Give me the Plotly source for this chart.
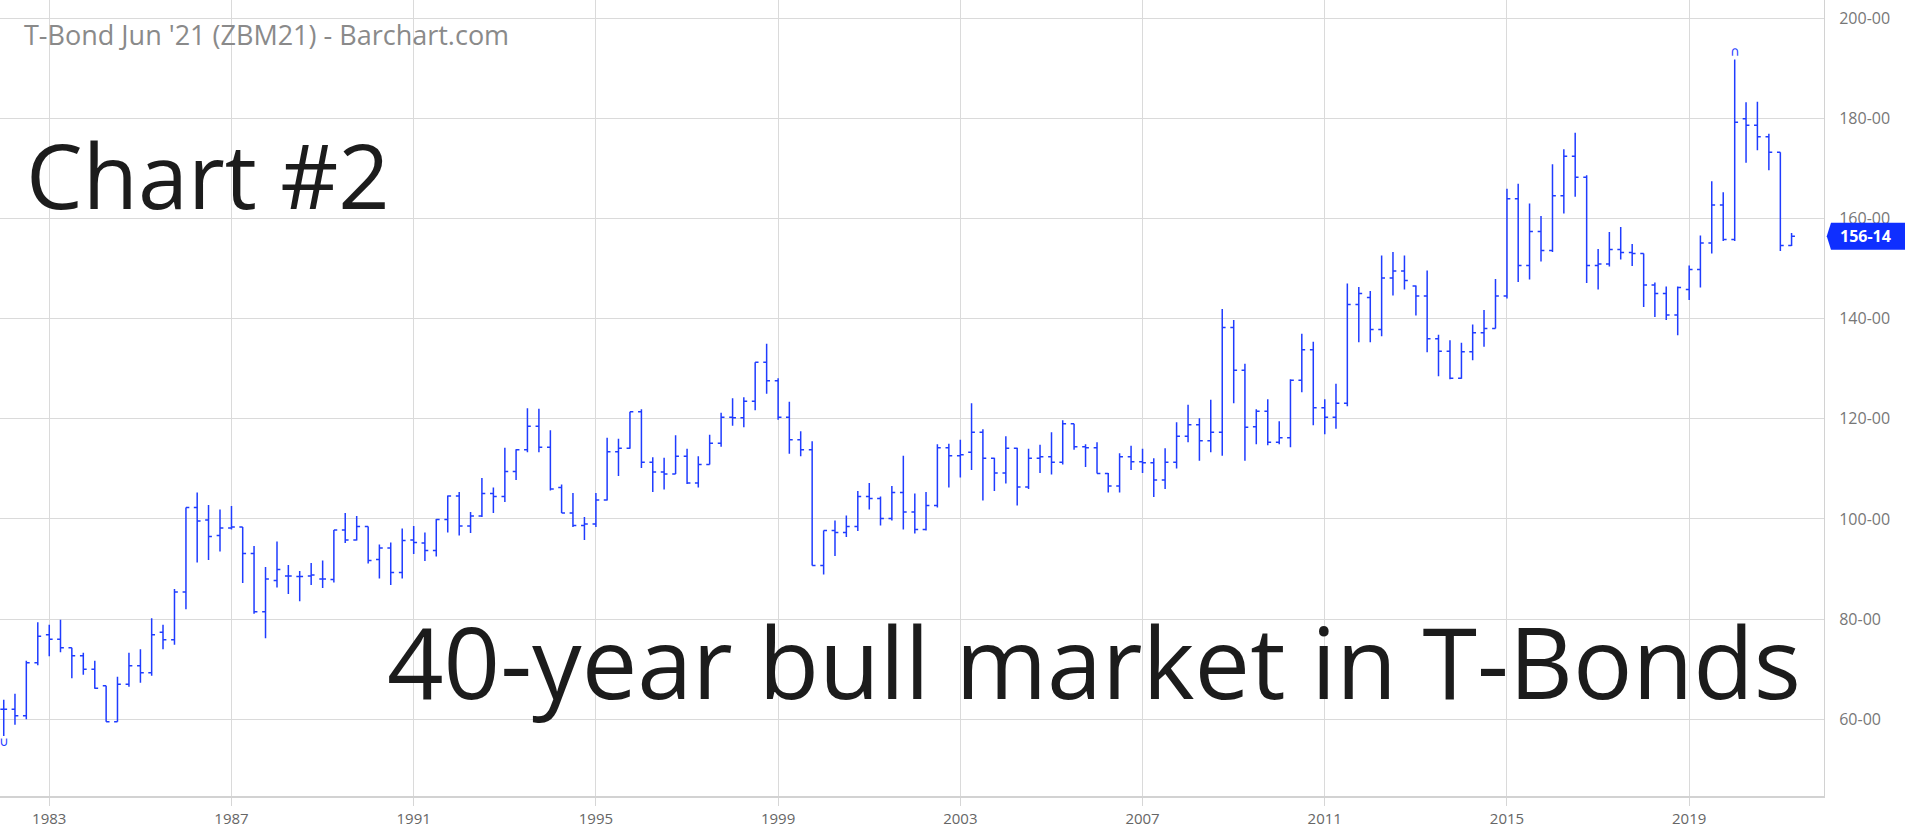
import pandas as pd
import plotly.graph_objects as go

# ---------------- data (quarterly OHLC, T-Bond futures) ----------------
opens = [
    62.0, 62.0, 60.7, 71.3, 76.9, 76.0, 74.3, 72.7, 70.0, 66.7,
    59.5, 67.0, 70.7, 69.3, 77.4, 75.9, 85.4, 102.3, 99.8, 96.7,
    98.2, 98.4, 93.1, 81.5, 87.7, 88.6, 88.5, 88.6, 88.0, 87.9,
    97.8, 95.8, 98.5, 91.9, 94.2, 89.3, 95.8, 95.2, 93.7, 99.9,
    104.6, 98.6, 100.6, 105.1, 104.5, 109.5, 113.8, 118.5, 114.3, 106.3,
    101.2, 98.7, 99.0, 103.8, 113.4, 114.1, 121.4, 111.3, 109.4, 109.0,
    112.5, 107.2, 110.9, 115.1, 120.3, 120.2, 123.5, 131.3, 127.6, 120.3,
    115.8, 113.8, 90.7, 97.7, 97.3, 98.5, 104.5, 104.1, 100.1, 105.3,
    101.4, 97.9, 102.7, 114.2, 112.6, 113.3, 117.3, 112.1, 109.2, 114.1,
    106.4, 112.1, 112.4, 111.3, 119.0, 114.4, 114.2, 109.1, 106.6, 112.4,
    111.4, 111.2, 107.8, 111.3, 116.5, 118.8, 115.6, 117.3, 138.2, 129.7,
    118.4, 121.5, 115.3, 116.2, 127.7, 133.8, 122.2, 120.3, 123.1, 142.8,
    144.2, 137.8, 148.1, 149.5, 146.5, 144.5, 136.0, 133.5, 128.1, 133.4,
    137.2, 138.0, 144.5, 163.9, 150.6, 157.4, 153.6, 164.5, 172.4, 168.2,
    150.6, 150.9, 153.8, 153.2, 153.0, 146.7, 145.0, 140.7, 145.8, 149.8,
    155.1, 162.7, 155.8, 179.9, 178.6, 176.3, 173.2, 154.6,
]
highs = [
    63.9, 65.1, 71.7, 79.4, 78.9, 79.9, 74.3, 73.3, 71.7, 66.7,
    68.5, 73.3, 74.0, 80.2, 78.9, 86.0, 102.3, 105.3, 102.8, 101.9,
    102.6, 98.4, 94.6, 90.4, 95.5, 90.8, 89.6, 91.2, 91.7, 97.8,
    101.2, 100.6, 98.5, 94.9, 95.3, 98.1, 98.6, 97.3, 100.0, 104.7,
    105.4, 101.4, 108.2, 106.3, 114.2, 113.9, 122.1, 122.0, 117.7, 106.9,
    105.2, 100.4, 105.2, 116.2, 116.0, 121.4, 121.9, 112.3, 112.2, 116.7,
    114.0, 112.5, 116.8, 121.2, 124.1, 124.3, 131.3, 135.0, 128.1, 123.4,
    117.5, 115.5, 97.7, 99.7, 100.7, 105.6, 107.2, 104.5, 106.6, 112.6,
    105.1, 105.4, 114.9, 115.0, 115.8, 123.1, 117.9, 112.2, 116.5, 114.2,
    114.0, 114.8, 117.3, 119.7, 119.0, 114.9, 115.3, 109.2, 113.1, 114.6,
    114.0, 112.1, 114.1, 119.3, 122.8, 120.1, 123.8, 141.9, 139.7, 131.0,
    121.9, 123.9, 119.5, 127.9, 137.0, 135.4, 123.9, 127.0, 147.0, 146.3,
    145.5, 152.6, 153.3, 152.6, 146.6, 149.6, 136.8, 135.7, 135.2, 138.8,
    141.7, 147.9, 165.9, 166.9, 163.0, 160.5, 170.8, 173.8, 177.1, 168.6,
    153.9, 157.3, 158.3, 154.9, 153.0, 147.2, 146.4, 146.4, 150.6, 156.6,
    167.4, 165.2, 191.7, 183.2, 183.3, 176.9, 173.2, 157.1,
]
lows = [
    56.7, 58.9, 60.0, 70.8, 72.6, 73.4, 68.2, 68.9, 66.1, 59.5,
    59.5, 66.5, 67.3, 68.7, 74.0, 74.9, 82.0, 91.3, 91.8, 93.5,
    97.9, 87.2, 81.1, 76.2, 86.3, 85.0, 83.6, 86.8, 86.2, 87.3,
    95.2, 95.7, 91.1, 88.1, 86.8, 88.1, 93.0, 91.6, 92.5, 97.3,
    96.7, 97.2, 100.4, 101.2, 103.4, 107.8, 113.3, 113.3, 105.7, 101.2,
    98.4, 95.8, 98.4, 103.7, 108.6, 114.0, 110.2, 105.4, 105.9, 109.0,
    107.0, 106.3, 110.9, 114.4, 118.6, 118.3, 121.7, 125.0, 119.8, 113.0,
    112.5, 90.7, 88.9, 92.6, 96.4, 97.6, 101.9, 98.7, 99.7, 97.9,
    97.1, 97.7, 102.3, 106.3, 108.3, 109.8, 103.7, 105.6, 107.1, 102.7,
    106.0, 109.2, 108.9, 110.9, 113.8, 110.4, 109.1, 105.3, 105.3, 109.8,
    109.2, 104.4, 106.0, 110.1, 115.3, 111.6, 113.3, 112.6, 123.1, 111.6,
    114.9, 114.7, 114.9, 114.3, 125.3, 118.7, 116.9, 118.0, 122.5, 135.3,
    135.3, 136.5, 144.6, 145.8, 140.6, 133.3, 128.5, 127.9, 128.0, 131.7,
    134.4, 138.0, 144.0, 147.3, 147.8, 151.4, 153.3, 161.0, 164.3, 147.1,
    145.8, 150.4, 151.8, 150.5, 142.3, 140.3, 139.7, 136.7, 143.7, 146.2,
    153.0, 155.5, 155.5, 171.1, 173.6, 169.6, 153.5, 154.5,
]
closes = [
    62.0, 60.7, 71.3, 76.6, 76.0, 74.3, 72.7, 70.0, 66.2, 59.5,
    67.0, 70.7, 69.3, 76.9, 75.9, 85.4, 102.3, 99.6, 96.5, 98.2,
    98.4, 93.1, 81.5, 88.0, 89.9, 88.6, 88.5, 88.8, 88.0, 97.8,
    95.8, 98.5, 91.7, 94.2, 89.3, 95.7, 95.3, 93.7, 99.9, 104.6,
    98.6, 100.6, 105.1, 104.5, 109.5, 113.8, 118.5, 114.3, 106.0, 101.2,
    98.7, 99.0, 103.8, 113.4, 114.1, 121.4, 111.3, 109.4, 109.0, 112.5,
    107.2, 110.9, 115.1, 120.3, 120.2, 123.5, 131.3, 127.6, 120.3, 115.8,
    113.8, 90.7, 97.7, 97.3, 98.5, 104.5, 104.1, 100.1, 105.3, 101.4,
    97.9, 102.7, 114.2, 112.6, 112.8, 117.3, 112.1, 109.2, 114.1, 106.4,
    112.1, 112.4, 111.3, 119.0, 114.4, 114.2, 109.1, 106.6, 112.4, 111.4,
    111.2, 107.8, 111.3, 116.5, 118.8, 115.6, 117.3, 138.2, 129.7, 118.3,
    121.5, 115.3, 116.2, 127.7, 133.8, 122.2, 120.3, 123.1, 142.8, 145.0,
    137.8, 148.1, 149.5, 147.6, 144.5, 136.0, 133.5, 128.1, 133.4, 137.2,
    138.0, 144.5, 163.9, 150.6, 157.4, 153.6, 164.5, 172.4, 168.2, 150.6,
    150.9, 153.8, 153.2, 153.0, 146.7, 145.0, 140.7, 146.2, 149.8, 155.1,
    162.7, 155.8, 179.2, 178.6, 176.3, 173.2, 154.6, 156.4375,
]
first_quarter = "1982-01-01"
year_ticks = [1983, 1987, 1991, 1995, 1999, 2003, 2007, 2011, 2015, 2019]
price_ticks = [60, 80, 100, 120, 140, 160, 180, 200]

title_text = "T-Bond Jun '21 (ZBM21) - Barchart.com"
label_1 = "Chart #2"
label_2 = "40-year bull market in T-Bonds"

# ---------------- figure ----------------
BLUE = "#1f3cff"
TAG_BLUE = "#0f2fff"
FONT = "Open Sans"
W, H = 1905, 833
M_L, M_R, M_T, M_B = 0, 81, 0, 37
Y_RANGE = [44.7, 203.6]
X_RANGE = ["1981-12-02", "2021-12-17"]

dates = pd.date_range(first_quarter, periods=len(opens), freq="QS")

fig = go.Figure()
fig.add_trace(go.Ohlc(
    x=dates, open=opens, high=highs, low=lows, close=closes,
    increasing=dict(line=dict(color=BLUE, width=1.5)),
    decreasing=dict(line=dict(color=BLUE, width=1.5)),
    tickwidth=0.3, showlegend=False, hoverinfo="skip",
))

# all-time high / low markers
i_hi = max(range(len(highs)), key=lambda i: highs[i])
i_lo = min(range(len(lows)), key=lambda i: lows[i])
fig.add_trace(go.Scatter(
    x=[dates[i_hi]], y=[highs[i_hi]], mode="text", text=["\u2229"],
    textposition="top center", textfont=dict(color=BLUE, size=13, family="DejaVu Sans"),
    showlegend=False, hoverinfo="skip", cliponaxis=False,
))
fig.add_trace(go.Scatter(
    x=[dates[i_lo]], y=[lows[i_lo]], mode="text", text=["\u222a"],
    textposition="bottom center", textfont=dict(color=BLUE, size=13, family="DejaVu Sans"),
    showlegend=False, hoverinfo="skip", cliponaxis=False,
))

def fmt32(v):
    whole = int(v)
    return f"{whole}-{round((v - whole) * 32):02d}"

last = closes[-1]
plot_w = W - M_L - M_R
plot_h = H - M_T - M_B
yp = (last - Y_RANGE[0]) / (Y_RANGE[1] - Y_RANGE[0])
half = 13.5 / plot_h
tip = 7 / plot_w
fig.add_shape(
    type="path", xref="paper", yref="paper",
    path=(f"M 1.0015 {yp} L {1 + tip} {yp + half} L {W / plot_w} {yp + half} "
          f"L {W / plot_w} {yp - half} L {1 + tip} {yp - half} Z"),
    fillcolor=TAG_BLUE, line=dict(width=0), layer="above",
)

annotations = [
    dict(text=title_text, xref="paper", yref="paper", x=22 / plot_w, y=1 - 34 / plot_h,
         xanchor="left", yanchor="middle", showarrow=False,
         font=dict(family=FONT, size=27, color="#8a8a8a")),
    dict(text=label_1, xref="paper", yref="paper", x=24 / plot_w, y=1 - 174 / plot_h,
         xanchor="left", yanchor="middle", showarrow=False,
         font=dict(family=FONT, size=90, color="#1c1c1c")),
    dict(text=label_2, xref="paper", yref="paper", x=1803 / plot_w, y=1 - 660 / plot_h,
         xanchor="right", yanchor="middle", showarrow=False,
         font=dict(family=FONT, size=99, color="#1c1c1c")),
    dict(text=f"<b>{fmt32(last)}</b>", xref="paper", yref="paper", x=1 + 14 / plot_w, y=yp,
         xanchor="left", yanchor="middle", showarrow=False,
         font=dict(family=FONT, size=16, color="white")),
]

fig.update_layout(
    width=W, height=H,
    margin=dict(l=M_L, r=M_R, t=M_T, b=M_B),
    paper_bgcolor="white", plot_bgcolor="white",
    annotations=annotations,
    font=dict(family=FONT),
    xaxis=dict(
        type="date", range=X_RANGE,
        tickvals=[f"{y}-01-01" for y in year_ticks],
        ticktext=[str(y) for y in year_ticks],
        showgrid=True, gridcolor="#dadada", gridwidth=1,
        showline=True, linecolor="#d2d2d2", linewidth=2,
        ticks="outside", ticklen=8, tickcolor="#d6d6d6",
        tickfont=dict(family=FONT, size=15, color="#666666"),
        rangeslider=dict(visible=False), zeroline=False, fixedrange=True,
        automargin=False,
    ),
    yaxis=dict(
        side="right", range=Y_RANGE,
        tickvals=price_ticks, ticktext=[f"{v}-00" for v in price_ticks],
        showgrid=True, gridcolor="#dadada", gridwidth=1,
        showline=True, linecolor="#d2d2d2", linewidth=1,
        ticks="", ticklabelstandoff=11,
        tickfont=dict(family=FONT, size=16, color="#777777"),
        zeroline=False, fixedrange=True, automargin=False,
    ),
)

fig.write_html(
    "out.html",
    config={"displayModeBar": False},
    post_script="document.body.style.margin='0';document.body.style.padding='0';",
)
